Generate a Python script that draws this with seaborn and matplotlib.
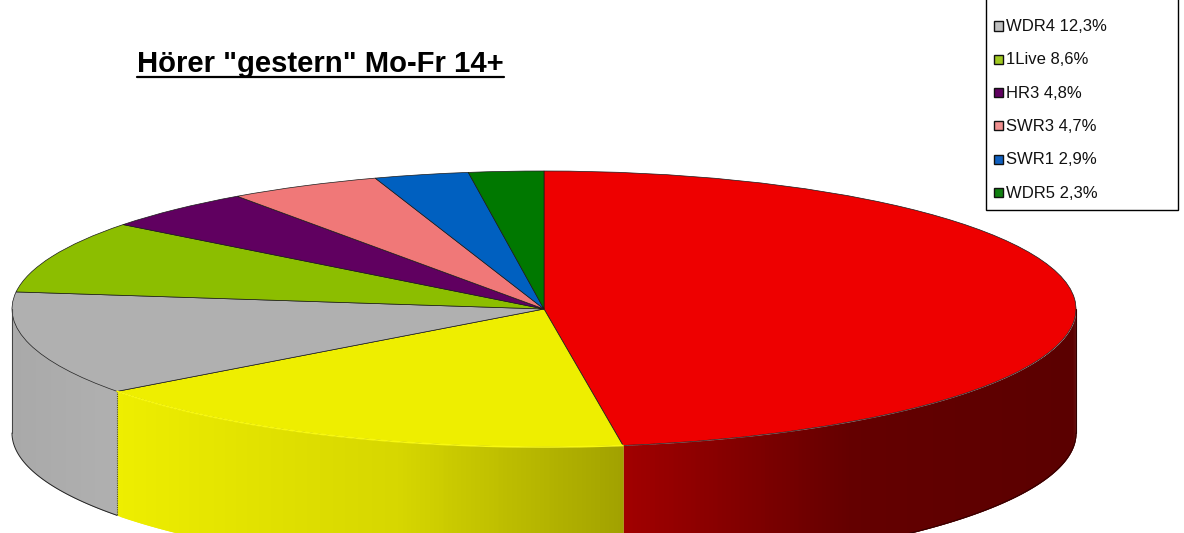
import numpy as np
import matplotlib
matplotlib.use("Agg")
import matplotlib.pyplot as plt
from matplotlib.patches import Rectangle
import seaborn as sns

stations = ["Rot", "Gelb", "WDR4", "1Live", "HR3", "SWR3", "SWR1", "WDR5"]
shares = [48.2, 17.4, 12.3, 8.6, 4.8, 4.7, 2.9, 2.3]
legend_names = ["WDR4", "1Live", "HR3", "SWR3", "SWR1", "WDR5"]
legend_values = ["12,3%", "8,6%", "4,8%", "4,7%", "2,9%", "2,3%"]
cut_off_value = "17,4%"
colors = ["#EE0000", "#EEEE00", "#B0B0B0", "#8CBE00", "#600060", "#F07878", "#0060C0", "#007800"]
legend_colors = ["#C0C0C0", "#A0C820", "#600060", "#F09090", "#1060C0", "#108010"]

W, H = 1184, 533
CX, CY, RX, RY = 544, 309, 532, 138
DEPTH = 124 / RY

sns.set_style("white")
plt.rcParams["font.family"] = ["Liberation Sans", "DejaVu Sans"]

fig = plt.figure(figsize=(W / 100, H / 100), dpi=100)
ax = fig.add_axes([0, 0, 1, 1])
palette = sns.color_palette(colors)


def fx(px):
    return px / W


def fy(py):
    return 1 - py / H


def shade(x):
    # side wall gets darker towards the right
    px = CX + RX * x
    return np.interp(px, [12, 117, 250, 400, 622, 850, 1076],
                     [0.97, 1.0, 0.95, 0.90, 0.68, 0.42, 0.38])


# side wall, only the front half of the disc can be seen
fractions = np.cumsum(shares) / np.sum(shares)
edges = 90 - np.concatenate([[0], fractions]) * 360
for i, col in enumerate(palette):
    hi, lo = edges[i], edges[i + 1]
    hi, lo = min(hi, 0), max(lo, -180)
    if lo >= hi:
        continue
    steps = np.linspace(lo, hi, int((hi - lo) * 2) + 2)
    width = steps[1] - steps[0]
    for a in steps[:-1]:
        # slices overlap the next one so no seams show between them
        t = np.radians(np.linspace(a, min(a + 2 * width, hi), 5))
        s = shade(np.cos(np.radians(a + width / 2)))
        if i == 2:
            c = np.array(col) * (0.96 + 0.04 * (s - 0.97) / 0.03)
        else:
            c = np.array(col) * s
        ax.fill_between(np.cos(t), np.sin(t), np.sin(t) - DEPTH, color=c, lw=0)

# wall outlines
t_gray = np.radians(np.linspace(edges[2], -180, 40))
ax.plot(np.cos(t_gray), np.sin(t_gray) - DEPTH, color="#222222", lw=0.7)
t_red = np.radians(np.linspace(0, edges[1], 120))
ax.plot(np.cos(t_red), np.sin(t_red) - DEPTH, color="#300000", lw=0.7)
ax.plot([-1, -1], [0, -DEPTH], color="#444444", lw=0.8)
ax.plot([1, 1], [0, -DEPTH], color="#300000", lw=0.8)
b = np.radians(edges[2])
ax.plot([np.cos(b)] * 2, [np.sin(b), np.sin(b) - DEPTH], color="#555500", lw=0.8, ls=(0, (1, 1)))

# top of the disc
ax.pie(shares, colors=palette, startangle=90, counterclock=False, radius=1, center=(0, 0),
       wedgeprops={"edgecolor": "#1a1a1a", "linewidth": 0.5})
t_yel = np.radians(np.linspace(edges[1], edges[2], 80))
ax.plot(np.cos(t_yel), np.sin(t_yel), color="#F8F810", lw=1.2)

ax.set_aspect("auto")
ax.set_xlim((0 - CX) / RX, (W - CX) / RX)
ax.set_ylim((CY - H) / RY, CY / RY)
ax.axis("off")

# title with underline
fig.text(fx(137), fy(64), 'Hörer "gestern" Mo-Fr 14+', fontsize=21.1, fontweight="bold",
         color="black", va="center", ha="left")
fig.add_artist(plt.Line2D([fx(137), fx(504)], [fy(77), fy(77)], color="black", lw=1.6))

# legend box runs off the top of the picture
fig.add_artist(Rectangle((fx(985.5), fy(209.5)), 192.5 / W, 260 / H, transform=fig.transFigure,
                         facecolor="white", edgecolor="black", lw=1))
fig.text(fx(1063), fy(-7), cut_off_value, fontsize=12, va="center", ha="left", color="#111111")
for i, (name, value, col) in enumerate(zip(legend_names, legend_values, legend_colors)):
    y = 26 + 33.3 * i
    fig.add_artist(Rectangle((fx(994), fy(y + 4.5)), 9 / W, 9 / H, transform=fig.transFigure,
                             facecolor=col, edgecolor="#111111", lw=1))
    fig.text(fx(1006), fy(y + 0.5), f"{name} {value}", fontsize=12, va="center", ha="left", color="#111111")

fig.savefig("out.png", dpi=100, facecolor="white")
plt.close(fig)
